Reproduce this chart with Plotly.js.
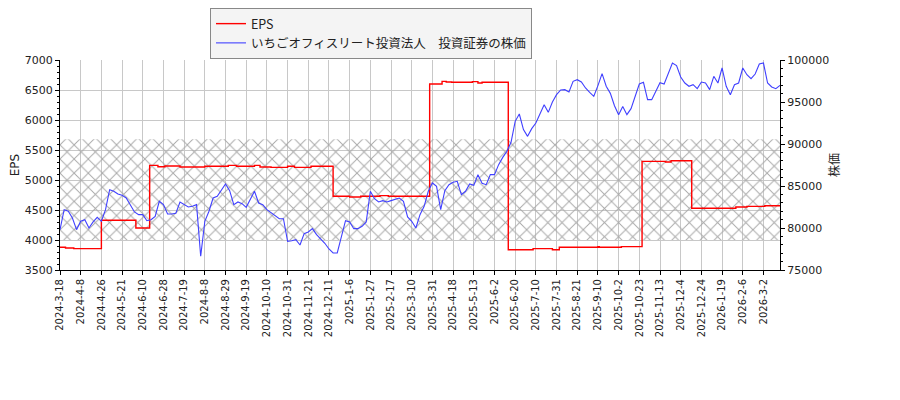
<!DOCTYPE html>
<html>
<head>
<meta charset="utf-8">
<script src="https://cdn.plot.ly/plotly-3.0.1.min.js"></script>
<style>
  html, body { margin: 0; padding: 0; background: #fff; }
  #chart { width: 900px; height: 400px; }
</style>
</head>
<body>
<div id="chart"></div>
<script>
// tick labels, one every 15 trading days
const tickLabels = [
  "2024-3-18", "2024-4-8", "2024-4-26", "2024-5-21", "2024-6-10", "2024-6-28",
  "2024-7-19", "2024-8-8", "2024-8-29", "2024-9-19", "2024-10-10", "2024-10-31",
  "2024-11-21", "2024-12-11", "2025-1-6", "2025-1-27", "2025-2-17", "2025-3-10",
  "2025-3-31", "2025-4-18", "2025-5-13", "2025-6-2", "2025-6-20", "2025-7-10",
  "2025-7-31", "2025-8-21", "2025-9-10", "2025-10-2", "2025-10-23", "2025-11-13",
  "2025-12-4", "2025-12-24", "2026-1-19", "2026-2-6", "2026-3-2"
];
const tickEvery = 15;
const lastDay = 522;

// share price, sampled every 3 trading days
const priceStep = 3;
const price = [
  79800, 82180, 81990, 81190, 79800, 80800, 80990, 80000, 80720, 81270,
  80800, 82180, 84560, 84370, 84050, 83890, 83570, 82780, 81910, 81590,
  81590, 80870, 80990, 81390, 83180, 82780, 81670, 81670, 81750, 83080,
  82780, 82500, 82580, 82780, 76630, 80800, 81990, 83570, 83770, 84560,
  85240, 84450, 82780, 83100, 82900, 82460, 83370, 84370, 82980, 82780,
  82180, 81790, 81390, 81110, 81110, 78410, 78490, 78610, 77980, 79330,
  79530, 79920, 79210, 78690, 78180, 77500, 77030, 77030, 79130, 80870,
  80720, 79920, 79920, 80200, 80720, 84370, 83490, 83100, 83260, 83100,
  83260, 83370, 83570, 83180, 81310, 80800, 80000, 81590, 82580, 84370,
  85360, 84960, 82180, 84450, 85160, 85440, 85560, 83970, 84370, 85240,
  85080, 86350, 85320, 85160, 86350, 86350, 87540, 88410, 89130, 90200,
  92700, 93570, 91710, 90910, 91830, 92500, 93690, 94680, 93770, 95000,
  95870, 96430, 96470, 96190, 97460, 97660, 97380, 96670, 96150, 95680,
  96950, 98370, 96870, 96030, 94560, 93490, 94450, 93490, 94210, 95680,
  97140, 97340, 95280, 95280, 96270, 97300, 97140, 98450, 99640, 99330,
  97980, 97260, 96870, 97060, 96590, 97380, 97260, 96470, 98060, 97260,
  99050, 96870, 95870, 97060, 97260, 99050, 98250, 97780, 98330, 99520,
  99640, 97260, 96790, 96590, 96980
];

// EPS: trading day where a new value starts, and that value
const epsDay = [
  0, 4, 10, 30, 55, 65, 71, 76, 87, 105, 122, 128, 141, 145, 153, 165, 170, 182,
  198, 210, 218, 232, 238, 268, 277, 280, 284, 299, 303, 306, 325, 343, 357, 362,
  390, 391, 407, 422, 439, 443, 458, 490, 498, 511, 522
];
const epsValue = [
  3878, 3867, 3856, 4328, 4200, 5244, 5222, 5233, 5217, 5228, 5244, 5228, 5244, 5217, 5211, 5228, 5211, 5228,
  4728, 4717, 4728, 4739, 4728, 6600, 6644, 6633, 6628, 6639, 6617, 6628, 3838, 3856, 3838, 3878,
  3889, 3878, 3889, 5311, 5300, 5322, 4528, 4550, 4561, 4572, 4572
];

// hatched band on the EPS axis
const bandLow = 4000;
const bandHigh = 5680;

const tickVals = tickLabels.map((_, i) => i * tickEvery);
const priceDay = price.map((_, i) => i * priceStep);

const band = {
  x: [0, lastDay, lastDay, 0],
  y: [bandLow, bandLow, bandHigh, bandHigh],
  type: "scatter",
  mode: "lines",
  fill: "toself",
  fillcolor: "rgba(0,0,0,0)",
  fillpattern: { shape: "x", size: 10, solidity: 0.18, fgcolor: "#a8a8a8", bgcolor: "rgba(0,0,0,0)" },
  line: { width: 0 },
  hoverinfo: "skip",
  showlegend: false,
  xaxis: "x",
  yaxis: "y",
};

const epsTrace = {
  x: epsDay,
  y: epsValue,
  type: "scatter",
  mode: "lines",
  name: "EPS",
  line: { color: "#ff0000", width: 1.4, shape: "hv" },
  xaxis: "x",
  yaxis: "y",
};

const priceTrace = {
  x: priceDay,
  y: price,
  type: "scatter",
  mode: "lines",
  name: "いちごオフィスリート投資法人\u3000投資証券の株価",
  line: { color: "rgb(64,64,255)", width: 1.1 },
  xaxis: "x",
  yaxis: "y2",
};

const axisCommon = {
  showline: true,
  linecolor: "#000",
  linewidth: 1,
  ticks: "outside",
  ticklen: 4,
  tickcolor: "#000",
  zeroline: false,
};

const layout = {
  width: 900,
  height: 400,
  margin: { l: 60, r: 120, t: 60, b: 130, autoexpand: false },
  paper_bgcolor: "#fff",
  plot_bgcolor: "#fff",
  font: { family: '"DejaVu Sans", "Noto Sans CJK JP", sans-serif', size: 11, color: "#222" },
  showlegend: true,
  legend: {
    x: 0.2083,
    xanchor: "left",
    y: 1.2476,
    yanchor: "top",
    bgcolor: "#f4f4f4",
    bordercolor: "#888",
    borderwidth: 1,
    tracegroupgap: 0,
    font: { family: '"Noto Sans CJK JP", "DejaVu Sans", sans-serif', size: 12.5, color: "#222" },
  },
  xaxis: Object.assign({}, axisCommon, {
    range: [0, lastDay],
    tickmode: "array",
    tickvals: tickVals,
    ticktext: tickLabels,
    tickangle: -90,
    tickfont: { size: 10 },
    showgrid: true,
    gridcolor: "#c8c8c8",
  }),
  yaxis: Object.assign({}, axisCommon, {
    range: [3500, 7000],
    tick0: 3500,
    dtick: 500,
    tickformat: "d",
    showgrid: true,
    gridcolor: "#c8c8c8",
    minor: { dtick: 100, ticks: "outside", ticklen: 2, tickcolor: "#000", showgrid: false },
    title: { text: "EPS", standoff: 2, font: { size: 12 } },
  }),
  yaxis2: Object.assign({}, axisCommon, {
    overlaying: "y",
    side: "right",
    anchor: "x",
    range: [75000, 100000],
    tick0: 75000,
    dtick: 5000,
    tickformat: "d",
    exponentformat: "none",
    showgrid: false,
    minor: { dtick: 1000, ticks: "outside", ticklen: 2, tickcolor: "#000", showgrid: false },
    title: { text: "株価", standoff: 2, font: { size: 12, family: '"Noto Sans CJK JP", sans-serif' } },
  }),
};

Plotly.newPlot("chart", [band, epsTrace, priceTrace], layout, { displayModeBar: false, staticPlot: true });
</script>
</body>
</html>
